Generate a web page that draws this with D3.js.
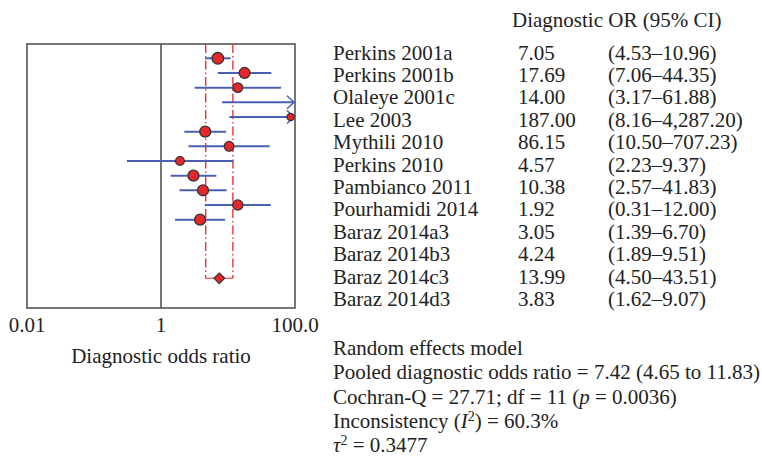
<!DOCTYPE html>
<html>
<head>
<meta charset="utf-8">
<script src="https://d3js.org/d3.v7.min.js"></script>
<style>
  body { margin: 0; background: #ffffff; }
  text {
    font-family: "Liberation Serif", "Times New Roman", serif;
    font-size: 21px;
    fill: #222222;
  }
</style>
</head>
<body>
<div id="container"></div>

<script>
  // study data
  const studies = ["Perkins 2001a", "Perkins 2001b", "Olaleye 2001c", "Lee 2003", "Mythili 2010",
    "Perkins 2010", "Pambianco 2011", "Pourhamidi 2014", "Baraz 2014a3", "Baraz 2014b3",
    "Baraz 2014c3", "Baraz 2014d3"];
  const dor = [7.05, 17.69, 14.00, 187.00, 86.15, 4.57, 10.38, 1.92, 3.05, 4.24, 13.99, 3.83];
  const lower = [4.53, 7.06, 3.17, 8.16, 10.50, 2.23, 2.57, 0.31, 1.39, 1.89, 4.50, 1.62];
  const upper = [10.96, 44.35, 61.88, 4287.20, 707.23, 9.37, 41.83, 12.00, 6.70, 9.51, 43.51, 9.07];
  // relative weights
  const weights = [10.5, 9.3, 7.3, 2.5, 4.0, 9.3, 7.3, 6.0, 9.3, 9.3, 8.2, 9.3];

  const pooled = {est: 7.42, lo: 4.65, hi: 11.83};
  const xTicks = [0.01, 1, 100];
  const xTickLabels = ["0.01", "1", "100.0"];

  const summaryLines = [
    [{t: "Random effects model"}],
    [{t: "Pooled diagnostic odds ratio = 7.42 (4.65 to 11.83)"}],
    [{t: "Cochran-Q = 27.71; df = 11 ("}, {t: "p", it: true}, {t: " = 0.0036)"}],
    [{t: "Inconsistency ("}, {t: "I", it: true}, {t: "2", sup: true}, {t: ") = 60.3%"}],
    [{t: "τ", it: true}, {t: "2", sup: true}, {t: " = 0.3477"}]
  ];

  const W = 762, H = 461;
  const plot = {left: 27, right: 295, top: 44, bottom: 308};

  const svg = d3.select("#container")
    .append("svg")
    .attr("width", W)
    .attr("height", H);

  svg.append("rect").attr("width", W).attr("height", H).attr("fill", "#ffffff");

  const x = d3.scaleLog()
    .domain([0.01, 100])
    .range([plot.left, plot.right]);

  // rows: 12 studies then pooled marker at index 15
  const y = d3.scaleLinear()
    .domain([0, 15])
    .range([58.3, 278.3]);

  const r = d3.scaleSqrt()
    .domain([0, 10.5])
    .range([0, 5.8]);

  const cx = v => Math.min(x(v), plot.right);

  // frame
  svg.append("rect")
    .attr("x", plot.left)
    .attr("y", plot.top)
    .attr("width", plot.right - plot.left)
    .attr("height", plot.bottom - plot.top)
    .attr("fill", "none")
    .attr("stroke", "#555555")
    .attr("stroke-width", 1.6);

  // line of no effect
  svg.append("line")
    .attr("x1", x(1)).attr("x2", x(1))
    .attr("y1", plot.top).attr("y2", plot.bottom)
    .attr("stroke", "#555555")
    .attr("stroke-width", 1.6);

  // pooled CI dashed lines
  svg.selectAll("line.pooled")
    .data([pooled.lo, pooled.hi])
    .join("line")
      .attr("class", "pooled")
      .attr("x1", d => x(d)).attr("x2", d => x(d))
      .attr("y1", plot.top).attr("y2", y(15))
      .attr("stroke", "#e8262c")
      .attr("stroke-width", 1.3)
      .attr("stroke-dasharray", "9,3,1.5,3");

  svg.append("line")
    .attr("x1", x(pooled.lo)).attr("x2", x(pooled.hi))
    .attr("y1", y(15)).attr("y2", y(15))
    .attr("stroke", "#ee5a5e")
    .attr("stroke-width", 1.3);

  const idx = d3.range(studies.length);

  // CI lines
  svg.selectAll("line.ci")
    .data(idx)
    .join("line")
      .attr("class", "ci")
      .attr("x1", i => cx(lower[i]))
      .attr("x2", i => cx(upper[i]))
      .attr("y1", i => y(i)).attr("y2", i => y(i))
      .attr("stroke", "#4a60ae")
      .attr("stroke-width", 2);

  // arrows for CIs running off the scale
  svg.selectAll("path.arrow")
    .data(idx.filter(i => upper[i] > 100))
    .join("path")
      .attr("class", "arrow")
      .attr("d", i => `M${plot.right - 8},${y(i) - 6.5}L${plot.right - 1},${y(i)}L${plot.right - 8},${y(i) + 6.5}`)
      .attr("fill", "none")
      .attr("stroke", "#4a60ae")
      .attr("stroke-width", 1.5);

  // point estimates
  svg.selectAll("circle.est")
    .data(idx.filter(i => dor[i] <= 100))
    .join("circle")
      .attr("class", "est")
      .attr("cx", i => x(dor[i]))
      .attr("cy", i => y(i))
      .attr("r", i => r(weights[i]))
      .attr("fill", "#e5262b")
      .attr("stroke", "#333333")
      .attr("stroke-width", 1.3);

  // pooled diamond
  svg.append("path")
    .attr("d", d3.symbol().type(d3.symbolDiamond2).size(72)())
    .attr("transform", `translate(${x(pooled.est)},${y(15)})`)
    .attr("fill", "#e5262b")
    .attr("stroke", "#333333")
    .attr("stroke-width", 1.2);

  // x axis labels
  svg.selectAll("text.tick")
    .data(xTicks)
    .join("text")
      .attr("class", "tick")
      .attr("x", d => x(d))
      .attr("y", 332)
      .attr("text-anchor", "middle")
      .text((d, i) => xTickLabels[i]);

  svg.append("text")
    .attr("x", x(1))
    .attr("y", 363)
    .attr("text-anchor", "middle")
    .text("Diagnostic odds ratio");

  // table
  const rowY = d3.scaleLinear().domain([0, 1]).range([59.5, 81.9]);
  const fmt = d3.format(",.2f");

  svg.append("text")
    .attr("x", 512)
    .attr("y", 27)
    .text("Diagnostic OR (95% CI)");

  const rows = svg.selectAll("g.row")
    .data(idx)
    .join("g")
      .attr("class", "row")
      .attr("transform", i => `translate(0,${rowY(i)})`);

  rows.append("text").attr("x", 333).text(i => studies[i]);
  rows.append("text").attr("x", 518).text(i => fmt(dor[i]));
  rows.append("text").attr("x", 608).text(i => `(${fmt(lower[i])}–${fmt(upper[i])})`);

  // summary statistics
  const sumY = d3.scaleLinear().domain([0, 1]).range([355, 379.3]);
  summaryLines.forEach((parts, k) => {
    const t = svg.append("text").attr("x", 333).attr("y", sumY(k));
    parts.forEach(p => {
      const s = t.append("tspan").text(p.t);
      if (p.it) s.attr("font-style", "italic");
      if (p.sup) s.attr("font-size", "14px").attr("baseline-shift", "super");
    });
  });
</script>
</body>
</html>
